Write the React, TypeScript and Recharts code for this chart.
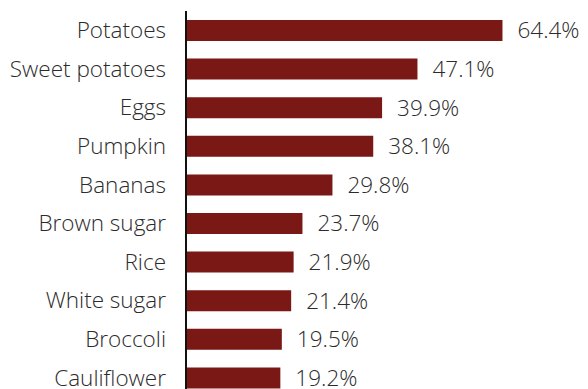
import { Bar, BarChart, LabelList, XAxis, YAxis } from "recharts";

const foods = [
  "Potatoes",
  "Sweet potatoes",
  "Eggs",
  "Pumpkin",
  "Bananas",
  "Brown sugar",
  "Rice",
  "White sugar",
  "Broccoli",
  "Cauliflower",
];
const shares = [64.4, 47.1, 39.9, 38.1, 29.8, 23.7, 21.9, 21.4, 19.5, 19.2];

const data = foods.map((name, i) => ({ name, share: shares[i] }));

const textStyle = {
  fontFamily: "'Open Sans', sans-serif",
  fontWeight: 300,
  fontSize: 22.5,
  fill: "#2b2b2b",
};

export default function App() {
  return (
    <div style={{ position: "absolute", left: 0, top: 0, background: "#fff" }}>
      <BarChart
        layout="vertical"
        width={588}
        height={400}
        data={data}
        margin={{ top: 11, right: 58, bottom: 3, left: 0 }}
        barCategoryGap="22%"
      >
        <XAxis type="number" domain={[0, 70]} hide />
        <YAxis
          type="category"
          dataKey="name"
          width={186}
          tickLine={false}
          tickMargin={14}
          axisLine={{ stroke: "#111", strokeWidth: 2 }}
          tick={textStyle}
        />
        <Bar dataKey="share" fill="#7a1815" barSize={21} isAnimationActive={false}>
          <LabelList
            dataKey="share"
            position="right"
            offset={15}
            formatter={(v: number) => `${v}%`}
            style={textStyle}
          />
        </Bar>
      </BarChart>
    </div>
  );
}
